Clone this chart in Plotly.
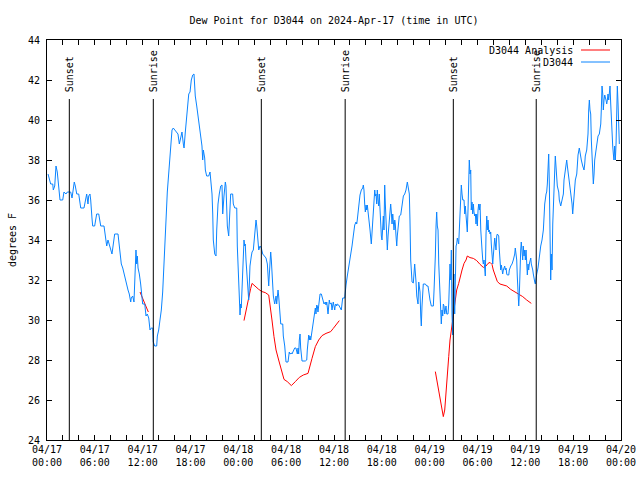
import pandas as pd
import plotly.graph_objects as go

START = "2024-04-17 00:00"

# D3044 observed dew point: hours since 2024-04-17 00:00 UTC and degrees F
obs_hours = [
    0.13, 0.29, 0.46, 0.72, 0.79, 0.97, 1.13, 1.29, 1.47, 1.63, 1.97, 2.13, 2.38, 2.55, 2.80, 2.97,
    3.14, 3.22, 3.42, 3.55, 3.73, 3.98, 4.14, 4.23, 4.64, 4.80, 4.98, 5.14, 5.23, 5.39, 5.48, 5.64,
    5.73, 5.98, 6.06, 6.23, 6.49, 6.65, 6.74, 7.15, 7.31, 7.49, 7.65, 7.81, 7.99, 8.15, 8.49, 8.91,
    8.99, 9.16, 9.32, 9.50, 9.66, 9.82, 10.00, 10.16, 10.32, 10.50, 10.57, 10.75, 10.91, 11.08, 11.16,
    11.25, 11.33, 11.42, 11.58, 11.75, 11.92, 12.00, 12.26, 12.42, 12.58, 12.76, 12.92, 13.08, 13.26,
    13.33, 13.51, 13.76, 13.84, 14.01, 14.17, 14.34, 14.51, 14.68, 14.84, 14.93, 15.09, 15.27, 15.43,
    15.52, 15.68, 15.84, 16.18, 16.43, 16.60, 16.77, 16.93, 17.10, 17.19, 17.35, 17.52, 17.69, 17.78,
    17.94, 18.10, 18.28, 18.44, 18.60, 18.78, 18.94, 19.10, 19.28, 19.44, 19.53, 19.61, 19.78, 19.86,
    20.03, 20.28, 20.45, 20.53, 20.70, 20.79, 20.86, 21.04, 21.20, 21.29, 21.45, 21.61, 21.79, 21.95,
    22.04, 22.20, 22.37, 22.45, 22.54, 22.62, 22.79, 22.87, 23.04, 23.29, 23.37, 23.55, 23.80, 23.87,
    23.96, 24.12, 24.21, 24.30, 24.37, 24.46, 24.55, 24.71, 24.80, 24.87, 24.96, 25.13, 25.21, 25.30,
    25.38, 25.46, 25.63, 25.72, 25.88, 26.05, 26.13, 26.22, 26.31, 26.38, 26.47, 26.56, 26.72, 26.88,
    27.06, 27.31, 27.47, 27.64, 27.72, 27.81, 27.89, 27.97, 28.06, 28.14, 28.22, 28.31, 28.39, 28.56,
    28.73, 28.81, 28.89, 28.98, 29.06, 29.14, 29.23, 29.32, 29.57, 29.64, 29.82, 29.89, 29.98, 30.23,
    30.32, 30.39, 30.48, 30.65, 30.73, 30.90, 31.07, 31.23, 31.32, 31.40, 31.49, 31.57, 31.65, 31.74,
    31.82, 31.90, 31.99, 32.40, 32.58, 32.65, 32.74, 32.83, 32.90, 32.99, 33.08, 33.24, 33.41, 33.58,
    33.66, 33.74, 33.83, 33.91, 33.99, 34.08, 34.16, 34.25, 34.41, 34.58, 34.75, 34.91, 35.00, 35.09,
    35.16, 35.25, 35.34, 35.41, 35.50, 35.66, 35.75, 35.84, 35.91, 36.00, 36.09, 36.16, 36.25, 36.34,
    36.42, 36.59, 36.67, 36.75, 36.92, 37.00, 37.09, 37.34, 37.42, 37.51, 37.67, 37.85, 38.01, 38.10,
    38.26, 38.42, 38.51, 38.60, 38.76, 38.85, 38.92, 39.10, 39.18, 39.26, 39.43, 39.60, 39.68, 39.76,
    39.85, 39.93, 40.02, 40.10, 40.18, 40.35, 40.52, 40.68, 40.77, 40.86, 41.02, 41.11, 41.18, 41.27,
    41.36, 41.43, 41.52, 41.61, 41.68, 41.77, 41.94, 42.02, 42.11, 42.19, 42.27, 42.36, 42.44, 42.52,
    42.61, 42.69, 42.78, 42.87, 42.94, 43.03, 43.11, 43.19, 43.28, 43.37, 43.44, 43.53, 43.62, 43.69,
    43.78, 43.87, 43.94, 44.03, 44.19, 44.37, 44.44, 44.53, 44.70, 44.87, 45.03, 45.20, 45.28, 45.45,
    45.53, 45.62, 45.79, 45.95, 46.12, 46.20, 46.29, 46.38, 46.54, 46.63, 46.79, 46.88, 46.95, 47.04,
    47.13, 47.20, 47.46, 47.63, 47.79, 47.88, 48.04, 48.21, 48.46, 48.55, 48.63, 48.71, 48.80, 48.88,
    48.96, 49.05, 49.14, 49.21, 49.30, 49.39, 49.46, 49.55, 49.64, 49.71, 49.80, 49.89, 50.05, 50.14,
    50.30, 50.39, 50.46, 50.55, 50.64, 50.72, 50.80, 50.89, 50.97, 51.05, 51.14, 51.22, 51.31, 51.39,
    51.47, 51.64, 51.72, 51.81, 51.89, 51.97, 52.06, 52.15, 52.31, 52.40, 52.47, 52.56, 52.65, 52.72,
    52.81, 52.90, 52.97, 53.06, 53.15, 53.22, 53.31, 53.40, 53.48, 53.56, 53.65, 53.73, 53.81, 53.90,
    53.98, 54.07, 54.15, 54.23, 54.32, 54.41, 54.48, 54.57, 54.66, 54.73, 54.82, 54.91, 54.98, 55.07,
    55.16, 55.23, 55.32, 55.41, 55.49, 55.57, 55.66, 55.73, 55.82, 55.91, 55.98, 56.07, 56.16, 56.24,
    56.32, 56.41, 56.49, 56.57, 56.66, 56.74, 56.82, 56.91, 56.99, 57.08, 57.16, 57.24, 57.41, 57.49,
    57.58, 57.67, 57.74, 57.92, 57.99, 58.17, 58.33, 58.49, 58.67, 58.74, 58.83, 58.92, 58.99, 59.08,
    59.17, 59.24, 59.33, 59.42, 59.49, 59.58, 59.67, 59.74, 59.84, 59.92, 60.00, 60.09, 60.17, 60.25,
    60.34, 60.42, 60.50, 60.59, 60.68, 60.75, 60.84, 60.93, 61.00, 61.09, 61.18, 61.25, 61.34, 61.43,
    61.59, 61.76, 61.93, 62.09, 62.26, 62.34, 62.43, 62.60, 62.68, 62.76, 62.85, 62.93, 63.01, 63.10,
    63.18, 63.26, 63.35, 63.44, 63.51, 63.60, 63.69, 63.76, 63.85, 63.94, 64.01, 64.19, 64.26, 64.44,
    64.51, 64.60, 64.77, 64.85, 65.02, 65.10, 65.19, 65.27, 65.44, 65.61, 65.77, 65.86, 65.94, 66.02,
    66.20, 66.27, 66.45, 66.52, 66.61, 66.77, 66.86, 67.02, 67.20, 67.36, 67.45, 67.52, 67.70, 67.78,
    67.86, 67.95, 68.03, 68.11, 68.20, 68.28, 68.36, 68.45, 68.53, 68.62, 68.70, 68.87, 68.95, 69.12,
    69.28, 69.37, 69.46, 69.53, 69.62, 69.71, 69.78, 69.87, 69.96, 70.12, 70.21, 70.29, 70.37, 70.46,
    70.54, 70.62, 70.71, 70.79, 70.87, 70.96, 71.04, 71.12, 71.21, 71.29, 71.38, 71.46, 71.54, 71.63,
    71.71, 71.79,
]
obs_values = [
    37.3, 37.1, 36.8, 36.8, 36.5, 36.7, 37.7, 37.4, 36.5, 36.0, 36.0, 36.4, 36.3, 36.4, 36.4, 36.4,
    36.1, 36.4, 36.9, 36.7, 36.3, 36.3, 35.8, 35.6, 35.6, 36.0, 36.3, 35.8, 36.2, 36.3, 36.0, 35.1,
    34.7, 34.7, 35.0, 35.3, 35.3, 34.9, 34.7, 34.7, 34.1, 33.7, 34.0, 33.8, 33.6, 33.3, 34.3, 34.3,
    34.0, 33.3, 32.8, 32.6, 32.3, 32.1, 31.7, 31.5, 31.3, 30.9, 31.1, 31.2, 30.9, 32.5, 33.5,
    32.8, 33.2, 32.6, 32.3, 31.8, 31.3, 30.8, 30.8, 30.2, 30.3, 30.1, 29.5, 29.6, 29.6,
    28.9, 28.7, 28.7, 29.2, 29.5, 30.0, 30.5, 31.4, 32.7, 33.7, 35.0, 36.4, 37.3, 37.8,
    38.5, 39.5, 39.6, 39.4, 39.3, 38.8, 39.2, 39.4, 38.8, 38.6, 39.4, 40.0, 40.9, 41.3,
    41.4, 42.0, 42.25, 42.3, 41.2, 40.7, 40.2, 39.8, 39.3, 38.7, 38.0, 38.5, 38.1, 37.5,
    37.2, 37.2, 37.4, 37.1, 36.3, 35.3, 34.0, 33.3, 33.2, 34.5, 35.8, 36.3, 36.7, 36.75,
    35.3, 36.2, 36.9, 36.7, 35.8, 34.7, 34.2, 35.0, 36.3, 36.3, 35.8, 35.6, 35.6, 33.7,
    32.3, 31.2, 30.25, 30.8, 30.6, 31.5, 32.5, 34.0, 33.7, 33.8, 33.0, 31.8, 31.2, 31.0,
    31.8, 32.7, 33.2, 33.4, 33.5, 34.2, 34.7, 35.0, 34.7, 34.2, 33.8, 33.5, 33.7, 33.6,
    33.3, 33.2, 33.1, 32.8, 32.2, 31.7, 32.3, 32.9, 33.4, 33.0, 32.2, 31.8, 31.2, 30.8,
    31.2, 30.8, 31.3, 31.5, 31.2, 30.7, 30.3, 29.8, 29.8, 29.2, 28.7, 28.3, 27.9, 27.9,
    28.2, 28.4, 28.3, 28.35, 28.3, 28.5, 28.6, 28.6, 28.4, 28.3, 28.6, 28.3, 29.0, 29.3,
    28.6, 28.2, 27.95, 27.95, 28.0, 28.5, 28.9, 29.25, 29.0, 29.2, 29.0, 29.4, 29.8, 30.2,
    30.6, 30.3, 30.75, 30.7, 30.4, 30.75, 31.2, 31.3, 31.3, 31.1, 30.8, 30.9, 30.75, 30.9,
    30.5, 30.3, 30.7, 31.0, 30.8, 30.85, 30.5, 30.7, 30.9, 30.7, 30.5, 30.75, 30.8, 30.7,
    30.8, 30.75, 30.7, 30.6, 30.5, 30.8, 31.1, 31.1, 31.3, 31.75, 32.2, 32.6, 33.0, 33.3,
    33.7, 34.2, 34.5, 34.75, 34.9, 34.8, 35.0, 35.7, 36.2, 36.25, 36.5, 36.6, 36.75, 36.5,
    35.8, 35.4, 35.75, 35.5, 35.75, 35.2, 34.5, 33.8, 34.3, 34.8, 35.8, 36.5, 36.2, 36.3,
    35.8, 36.5, 36.0, 35.7, 36.3, 35.2, 34.2, 34.0, 34.7, 35.2, 34.5, 36.75, 35.8, 34.8,
    34.0, 33.5, 34.2, 34.7, 35.2, 35.7, 35.8, 35.4, 34.8, 35.3, 34.7, 34.5, 35.0, 34.8,
    34.2, 33.7, 34.2, 34.5, 35.2, 35.25, 35.5, 35.75, 36.2, 36.3, 36.5, 36.9, 36.7, 36.3,
    35.0, 33.0, 31.9, 31.85, 32.8, 32.5, 31.9, 31.2, 30.8, 31.9, 31.4, 30.2, 29.7, 30.7,
    31.6, 31.8, 31.8, 31.7, 31.7, 31.3, 31.0, 30.7, 30.7, 31.5, 32.1, 33.2, 34.7, 35.4,
    34.7, 34.5, 32.8, 32.0, 31.2, 30.3, 29.8, 30.5, 30.2, 30.8, 30.7, 30.3, 30.7, 30.3,
    30.3, 30.8, 31.5, 32.8, 32.0, 33.5, 30.3, 29.25, 31.8, 32.3, 30.3, 32.5, 33.7, 33.8,
    34.1, 33.8, 34.5, 34.8, 36.0, 36.75, 36.3, 36.0, 36.0, 35.3, 35.7, 35.2, 34.8, 34.4,
    35.5, 37.2, 38.0, 37.3, 37.5, 35.5, 35.9, 35.3, 35.8, 35.4, 35.2, 35.3, 34.8, 35.3,
    34.7, 35.5, 35.8, 35.5, 35.8, 34.5, 33.8, 33.5, 33.0, 32.8, 33.0, 32.5, 32.2, 34.3,
    35.2, 34.5, 35.0, 34.4, 34.5, 34.3, 34.4, 33.8, 33.0, 32.8, 33.2, 33.8, 34.1, 33.8,
    33.5, 34.2, 34.3, 34.25, 34.2, 33.5, 33.0, 32.5, 32.75, 32.5, 32.3, 32.5, 32.7, 32.5,
    32.6, 32.3, 32.25, 32.25, 32.5, 32.7, 32.8, 33.0, 33.3, 33.6, 33.4, 33.0, 32.2, 31.5,
    30.7, 31.2, 32.8, 33.5, 33.9, 33.5, 33.0, 33.7, 33.2, 33.5, 33.0, 33.5, 32.7, 32.25,
    32.8, 32.5, 32.8, 33.0, 33.1, 32.8, 32.5, 32.5, 32.3, 32.0, 31.9, 31.8, 32.2, 32.3,
    32.6, 33.2, 33.7, 34.0, 34.5, 35.1, 35.8, 36.3, 36.4, 36.8, 37.7, 38.3, 36.8, 33.7,
    32.0, 33.3, 32.5, 34.8, 36.0, 36.7, 37.5, 38.2, 37.5, 37.0, 36.7, 36.4, 36.0, 35.7,
    35.8, 36.0, 36.3, 37.0, 37.5, 38.0, 38.0, 37.7, 37.2, 36.8, 36.3, 35.8, 35.3, 35.7,
    36.3, 37.0, 37.3, 37.7, 38.25, 38.6, 38.3, 38.0, 37.7, 37.5, 37.8, 38.2, 38.5, 38.8,
    39.3, 40.5, 41.0, 40.5, 40.3, 39.0, 38.2, 37.3, 36.8, 37.3, 38.0, 38.5, 38.8, 39.2,
    39.3, 39.5, 39.8, 40.5, 41.7, 41.3, 40.5, 41.0, 41.25, 41.0, 40.8, 41.0, 41.3, 41.0,
    41.5, 41.7, 40.8, 39.8, 39.3, 38.7, 38.3, 38.0, 38.7, 38.0, 38.8, 40.8, 41.7, 40.8,
    39.5, 38.8,
]

# D3044 Analysis (three separate runs; None marks a gap)
ana_hours = [
    11.67, 12.04, 12.29, 12.71, None,
    24.71, 25.05, 25.30, 25.55, 25.72, 26.13, 26.56, 26.97, 27.38, 27.81, 27.97, 28.22, 28.47,
    28.73, 29.06, 29.39, 29.73, 30.14, 30.65, 31.15, 31.65, 32.15, 32.74, 33.24, 33.66, 34.08,
    34.50, 35.00, 35.59, 35.91, 36.34, 36.67, None,
    48.71, 48.96, 49.21, 49.46, 49.71, 49.89, 50.05, 50.21, 50.39, 50.55, 50.72, 50.89, 51.05,
    51.22, 51.39, 51.64, 51.81, 52.06, 52.31, 52.56, 52.72, 53.06, 53.48, 53.90, 54.32, 54.73,
    55.07, 55.32, 55.57, 55.82, 55.98, 56.24, 56.49, 56.82, 57.24, 57.67, 58.17, 58.67, 59.17,
    59.67, 60.17, 60.75,
]
ana_values = [
    31.4, 31.0, 30.8, 30.4, None,
    29.97, 30.67, 31.17, 31.58, 31.83, 31.67, 31.53, 31.42, 31.37, 31.25, 30.83, 30.0, 29.17,
    28.5, 28.0, 27.5, 27.03, 26.92, 26.72, 26.92, 27.13, 27.25, 27.33, 28.08, 28.67, 29.0,
    29.22, 29.33, 29.42, 29.58, 29.8, 29.97, None,
    27.42, 26.83, 26.33, 25.83, 25.17, 25.5, 26.5, 27.33, 28.17, 29.0, 29.42, 30.0, 30.5,
    31.17, 31.5, 31.83, 32.17, 32.5, 32.83, 33.0, 33.2, 33.12, 33.08, 32.97, 32.78, 32.63,
    32.7, 32.83, 32.88, 32.78, 32.5, 32.17, 31.92, 31.8, 31.75, 31.7, 31.53, 31.42, 31.28,
    31.17, 31.0, 30.83,
]

# Sun events (UTC)
sun_labels = ["Sunset", "Sunrise", "Sunset", "Sunrise", "Sunset", "Sunrise"]
sun_times = ["2024-04-17 02:48", "2024-04-17 13:20", "2024-04-18 02:53",
             "2024-04-18 13:24", "2024-04-19 02:58", "2024-04-19 13:22"]

title_text = "Dew Point for D3044 on 2024-Apr-17 (time in UTC)"
y_label = "degrees F"
series_names = ["D3044 Analysis", "D3044"]
series_colors = ["#ff0000", "#0a84ff"]

t0 = pd.Timestamp(START)


def to_time(hours):
    return [None if h is None else t0 + pd.Timedelta(hours=h) for h in hours]


FONT = "DejaVu Sans Mono"
W, H = 640, 480
L, R, T, B = 47, 19, 40, 40
PW, PH = W - L - R, H - T - B


def px_x(px):
    return (px - L) / PW


def px_y(py):
    return (H - B - py) / PH


fig = go.Figure()
fig.add_trace(go.Scatter(x=to_time(ana_hours), y=ana_values, mode="lines",
                         line=dict(color=series_colors[0], width=1),
                         connectgaps=False, name=series_names[0], showlegend=False))
fig.add_trace(go.Scatter(x=to_time(obs_hours), y=obs_values, mode="lines",
                         line=dict(color=series_colors[1], width=1),
                         name=series_names[1], showlegend=False))

for lab, t in zip(sun_labels, sun_times):
    fig.add_shape(type="line", xref="x", yref="y", x0=t, x1=t, y0=24, y1=41.05,
                  line=dict(color="black", width=1))
    fig.add_annotation(x=t, y=41.3, xref="x", yref="y", text=lab, textangle=-90,
                       showarrow=False, xanchor="center", yanchor="bottom",
                       font=dict(family=FONT, size=10, color="black"))

# custom legend: text right-aligned, line sample on the right
leg_rows = [50, 62]
for name, col, py in zip(series_names, series_colors, leg_rows):
    fig.add_annotation(x=px_x(575), y=px_y(py), xref="paper", yref="paper", text=name,
                       showarrow=False, xanchor="right", yanchor="middle",
                       font=dict(family=FONT, size=10, color="black"))
    fig.add_shape(type="line", xref="paper", yref="paper",
                  x0=px_x(581), x1=px_x(610), y0=px_y(py), y1=px_y(py),
                  line=dict(color=col, width=1))

axis_common = dict(showline=True, linecolor="black", linewidth=1, mirror="allticks",
                   ticks="inside", ticklen=5, tickcolor="black", showgrid=False, zeroline=False,
                   automargin=False, tickfont=dict(family=FONT, size=10, color="black"))

fig.update_xaxes(type="date", range=["2024-04-17 00:00", "2024-04-20 00:00"],
                 dtick=6 * 3600000, tick0="2024-04-17 00:00", tickformat="%m/%d<br>%H:%M",
                 minor=dict(dtick=2 * 3600000, ticks="inside", ticklen=5, tickcolor="black",
                            showgrid=False),
                 **axis_common)
fig.update_yaxes(range=[24, 44], dtick=2, tick0=24, ticklabelstandoff=4,
                 title=dict(text=y_label, font=dict(family=FONT, size=10, color="black"), standoff=9),
                 **axis_common)

fig.update_layout(
    width=W, height=H,
    margin=dict(l=L, r=R, t=T, b=B, autoexpand=False),
    paper_bgcolor="white", plot_bgcolor="white",
    font=dict(family=FONT, size=10, color="black"),
    title=dict(text=title_text, x=0.5, xref="paper", y=1 - 20 / H, yref="container",
               xanchor="center", yanchor="middle", font=dict(family=FONT, size=10, color="black")),
    showlegend=False,
)

fig.write_html("out.html", config={"displayModeBar": False},
               post_script="document.body.style.margin='0';document.body.style.padding='0';")
